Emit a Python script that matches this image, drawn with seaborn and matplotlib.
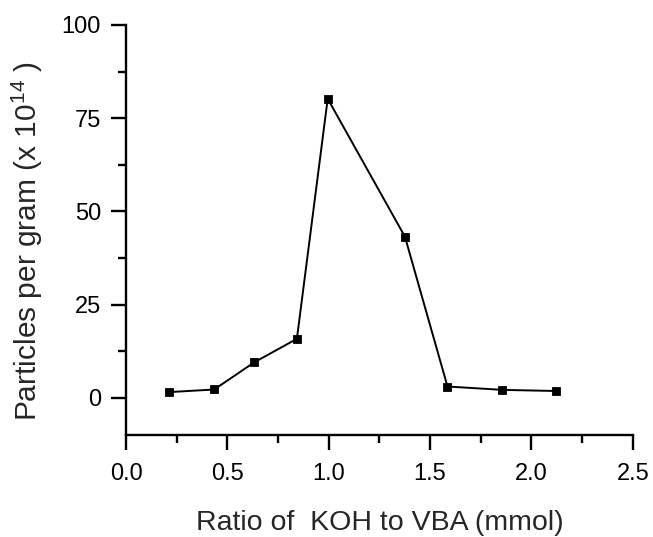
import numpy as np
import pandas as pd
import matplotlib
matplotlib.use('Agg')
import matplotlib.pyplot as plt
from matplotlib.ticker import MultipleLocator
import seaborn as sns

# KOH:VBA ratio vs particle count
ratio = [0.212, 0.435, 0.633, 0.843, 0.995, 1.376, 1.586, 1.857, 2.12]
particles = [1.5, 2.2, 9.5, 15.8, 80.2, 43.2, 3.0, 2.1, 1.8]

xlabel = 'Ratio of  KOH to VBA (mmol)'
ylabel = 'Particles per gram (x 10$^{14}$ )'

sns.set_style('ticks')
plt.rcParams['font.family'] = ['Liberation Sans', 'DejaVu Sans']
plt.rcParams['mathtext.default'] = 'regular'

df = pd.DataFrame({'ratio': ratio, 'particles': particles})

fig = plt.figure(figsize=(6.53, 5.37), dpi=100)
ax = fig.add_axes([0.193, 0.19, 0.776, 0.7635])

sns.lineplot(data=df, x='ratio', y='particles', ax=ax, color='black',
             linewidth=1.4, marker='s', markersize=5.8, markeredgecolor='black',
             markeredgewidth=0.6, markerfacecolor='black', sort=False)

ax.set_xlim(0, 2.5)
ax.set_ylim(-10, 100)
ax.xaxis.set_major_locator(MultipleLocator(0.5))
ax.xaxis.set_minor_locator(MultipleLocator(0.25))
ax.yaxis.set_major_locator(MultipleLocator(25))
ax.yaxis.set_minor_locator(MultipleLocator(12.5))
ax.xaxis.set_major_formatter(matplotlib.ticker.FormatStrFormatter('%.1f'))

sns.despine(ax=ax)
for s in ['left', 'bottom']:
    ax.spines[s].set_linewidth(1.7)
    ax.spines[s].set_color('black')

ax.tick_params(which='major', length=11, width=1.7, labelsize=17,
               color='black', labelcolor='black')
ax.tick_params(which='minor', length=5.5, width=1.7, color='black')
ax.tick_params(axis='x', which='major', pad=9)
ax.tick_params(axis='y', which='major', pad=7)

ax.set_xlabel(xlabel, fontsize=20.5)
ax.set_ylabel(ylabel, fontsize=21.5)
ax.xaxis.set_label_coords(0.5, -0.233)
ax.xaxis.label.set_va('baseline')
ax.yaxis.set_label_coords(-0.194, 0.473)
ax.yaxis.label.set_va('center')

fig.savefig('out.png', dpi=100)
